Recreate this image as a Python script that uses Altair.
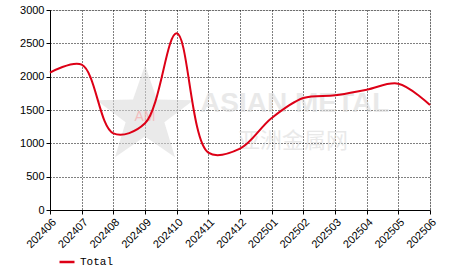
import math
import altair as alt
import pandas as pd

months = ["202406", "202407", "202408", "202409", "202410", "202411", "202412",
          "202501", "202502", "202503", "202504", "202505", "202506"]
values = [2060, 2180, 1150, 1300, 2650, 860, 920, 1380, 1680, 1720, 1805, 1895, 1575]
series = ["Total"] * len(months)

df = pd.DataFrame({"month": months, "value": values, "series": series})

# watermark star shape (decoration)
pts = []
for i in range(10):
    r = 1.0 if i % 2 == 0 else 0.4
    a = math.radians(-90 + 36 * i)
    pts.append(f"{r * math.cos(a):.3f},{r * math.sin(a):.3f}")
star_path = "M" + " L".join(pts) + " Z"

star = alt.Chart(pd.DataFrame({"k": [0]})).mark_point(
    shape=star_path, size=10400, filled=True, color="#d9d9d9", opacity=0.55, strokeWidth=0
).encode(x=alt.value(95), y=alt.value(106))

am = alt.Chart(pd.DataFrame({"t": ["AM"]})).mark_text(
    font="Liberation Sans", fontSize=14, color="#f4b3b3", opacity=0.8,
    align="center", baseline="middle"
).encode(x=alt.value(95), y=alt.value(107), text="t:N")

wm1 = alt.Chart(pd.DataFrame({"t": ["ASIAN METAL"]})).mark_text(
    font="Liberation Sans", fontSize=28, fontWeight="bold", color="#dcdcdc", opacity=0.6,
    align="left", baseline="middle"
).encode(x=alt.value(150), y=alt.value(94), text="t:N")

wm2 = alt.Chart(pd.DataFrame({"t": ["亚洲金属网"]})).mark_text(
    font="Noto Sans CJK SC", fontSize=22, color="#dcdcdc", opacity=0.6,
    align="left", baseline="middle"
).encode(x=alt.value(188), y=alt.value(131), text="t:N")

line = alt.Chart(df).mark_line(interpolate="catmull-rom", strokeWidth=2).encode(
    x=alt.X("month:O", sort=months, title=None,
            scale=alt.Scale(type="point", padding=0),
            axis=alt.Axis(labelAngle=-45, labelFont="Liberation Sans", labelFontSize=11,
                          labelColor="#000", domainColor="#000", tickColor="#000",
                          tickSize=4, labelPadding=2, grid=True, gridColor="#000",
                          gridDash=[1, 2], gridOpacity=1)),
    y=alt.Y("value:Q", title=None,
            scale=alt.Scale(domain=[0, 3000], nice=False),
            axis=alt.Axis(values=[0, 500, 1000, 1500, 2000, 2500, 3000], format="d",
                          labelFont="Liberation Sans", labelFontSize=11, labelColor="#000",
                          domainColor="#000", tickColor="#000", tickSize=4, labelPadding=2,
                          grid=True, gridColor="#000", gridDash=[1, 2], gridOpacity=1)),
    color=alt.Color("series:N", scale=alt.Scale(domain=["Total"], range=["#DD0016"]),
                    legend=alt.Legend(title=None, orient="none", legendX=8, legendY=243,
                                      symbolType="stroke", symbolSize=225,
                                      symbolStrokeWidth=2.5,
                                      labelFont="Liberation Mono", labelFontSize=11,
                                      labelColor="#000")),
)

chart = alt.layer(star, am, wm1, wm2, line).properties(
    width=380, height=200,
    autosize=alt.AutoSizeParams(type="none"),
    padding={"left": 50, "top": 10, "right": 36, "bottom": 62},
).configure_view(stroke=None).configure(background="white")

chart.save("out.html", embed_options={"renderer": "svg", "actions": False})
